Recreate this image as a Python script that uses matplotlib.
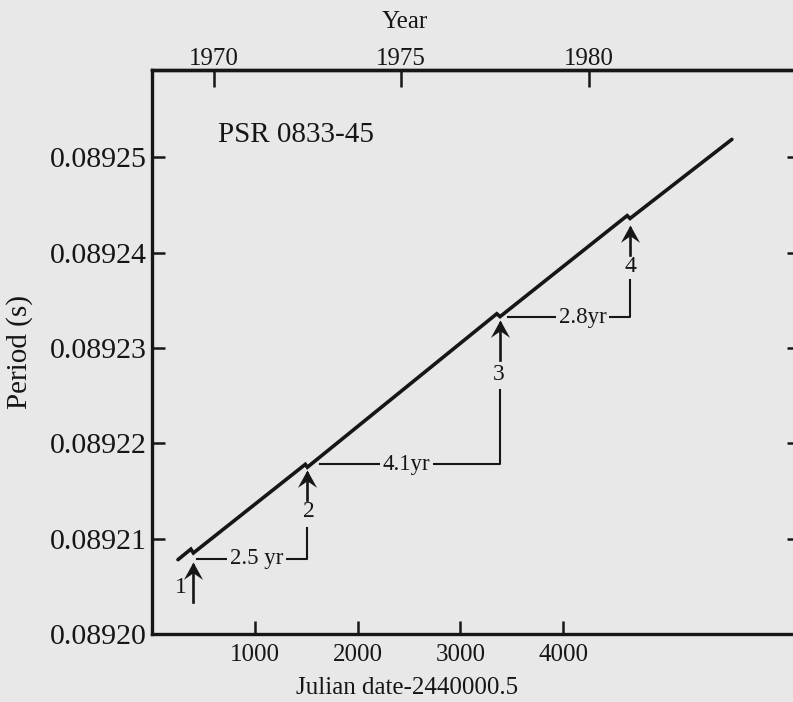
import matplotlib.pyplot as plt
from matplotlib.path import Path
from matplotlib.ticker import FormatStrFormatter

# period curve of the Vela pulsar (days after JD 2440000.5, period in s)
line_day = [250, 375, 400, 1490, 1510, 3355, 3387, 4625, 4653, 5645]
line_period = [0.0892078, 0.0892089, 0.0892085, 0.0892178, 0.0892175,
               0.0892336, 0.0892333, 0.0892439, 0.0892436, 0.0892519]

# glitches: arrow position, arrow tip / tail, number label
glitch_day = [400, 1510, 3390, 4655]
glitch_name = ['1', '2', '3', '4']
arrow_tip = [0.08920756, 0.08921721, 0.08923295, 0.08924292]
arrow_tail = [0.08920336, 0.08921406, 0.08922875, 0.08923977]
name_day = [277, 1529, 3377, 4660]
name_period = [0.08920483, 0.08921283, 0.08922718, 0.08923854]

# intervals between glitches
interval_text = ['2.5 yr', '4.1yr', '2.8yr']
interval_start = [432, 1633, 3464]
interval_period = [0.08920787, 0.08921781, 0.08923321]
interval_top = [0.08921112, 0.0892256, 0.08923715]
interval_text_day = [1017, 2478, 4192]

x_ticks = [1000, 2000, 3000, 4000]
y_ticks = [0.08920, 0.08921, 0.08922, 0.08923, 0.08924, 0.08925]
year_ticks = [1970, 1975, 1980]
day_of_1970 = 598

bg = '#e8e8e8'
ink = '#161616'
serif = 'Liberation Serif'

fig = plt.figure(figsize=(7.93, 7.02), dpi=100, facecolor=bg)
ax = fig.add_axes([0.1921, 0.0969, 0.8168, 0.8034], facecolor=bg)
ax.set_xlim(0, 6309)
ax.set_ylim(0.0892, 0.08925918)

# main curve
ax.plot(line_day, line_period, color=ink, lw=2.6, solid_capstyle='round',
        solid_joinstyle='miter')

# arrow heads (barbed, tip at origin)
head = Path([(0, 0), (0.55, -1), (0, -0.62), (-0.55, -1), (0, 0)],
            [Path.MOVETO, Path.LINETO, Path.LINETO, Path.LINETO, Path.CLOSEPOLY])

for i in range(len(glitch_day)):
    d = glitch_day[i]
    ax.plot([d, d], [arrow_tail[i], arrow_tip[i] - 0.0000003], color=ink, lw=1.9)
    ax.plot([d], [arrow_tip[i]], marker=head, ms=25, color=ink, mew=0, ls='none')
    ax.text(name_day[i], name_period[i], glitch_name[i], family=serif,
            fontsize=17, color=ink, ha='center', va='center')

for i in range(len(interval_text)):
    end = glitch_day[i + 1]
    ax.plot([interval_start[i], end, end],
            [interval_period[i], interval_period[i], interval_top[i]],
            color=ink, lw=1.5)
    ax.text(interval_text_day[i], interval_period[i], interval_text[i],
            family=serif, fontsize=16.5, color=ink, ha='center', va='center',
            bbox=dict(facecolor=bg, edgecolor='none', pad=2))

ax.text(640, 0.08925236, 'PSR 0833-45', family=serif, fontsize=21,
        color=ink, ha='left', va='center')

# axes styling
for s in ax.spines.values():
    s.set_linewidth(2.4)
    s.set_color(ink)
ax.set_xticks(x_ticks)
ax.set_yticks(y_ticks)
ax.yaxis.set_major_formatter(FormatStrFormatter('%.5f'))
ax.tick_params(axis='both', direction='in', length=9.5, width=1.8, color=ink)
ax.tick_params(axis='y', right=True, labelright=False, labelsize=21.5, pad=4)
ax.tick_params(axis='x', top=False, labelsize=18, pad=7)
for lab in ax.get_xticklabels() + ax.get_yticklabels():
    lab.set_family(serif)
    lab.set_color(ink)

ax.set_xlabel('Julian date-2440000.5', family=serif, fontsize=18, color=ink)
ax.xaxis.set_label_coords(0.393, -0.096)
ax.xaxis.label.set_va('center')
ax.set_ylabel('Period (s)', family=serif, fontsize=21, color=ink)
ax.yaxis.set_label_coords(-0.205, 0.5)
ax.yaxis.label.set_va('center')


def day_to_year(d):
    return 1970 + (d - day_of_1970) / 365.25


def year_to_day(y):
    return day_of_1970 + (y - 1970) * 365.25


top = ax.secondary_xaxis('top', functions=(day_to_year, year_to_day))
top.set_xticks(year_ticks)
top.xaxis.set_major_formatter(FormatStrFormatter('%d'))
top.tick_params(direction='in', length=12, width=1.8, color=ink,
                labelsize=18, pad=0)
for lab in top.get_xticklabels():
    lab.set_family(serif)
    lab.set_color(ink)
top.spines['top'].set_linewidth(2.4)
fig.text(405 / 793, 1 - 22 / 702, 'Year', family=serif, fontsize=18,
         color=ink, ha='center', va='center')

fig.savefig('out.png', dpi=100, facecolor=bg)
